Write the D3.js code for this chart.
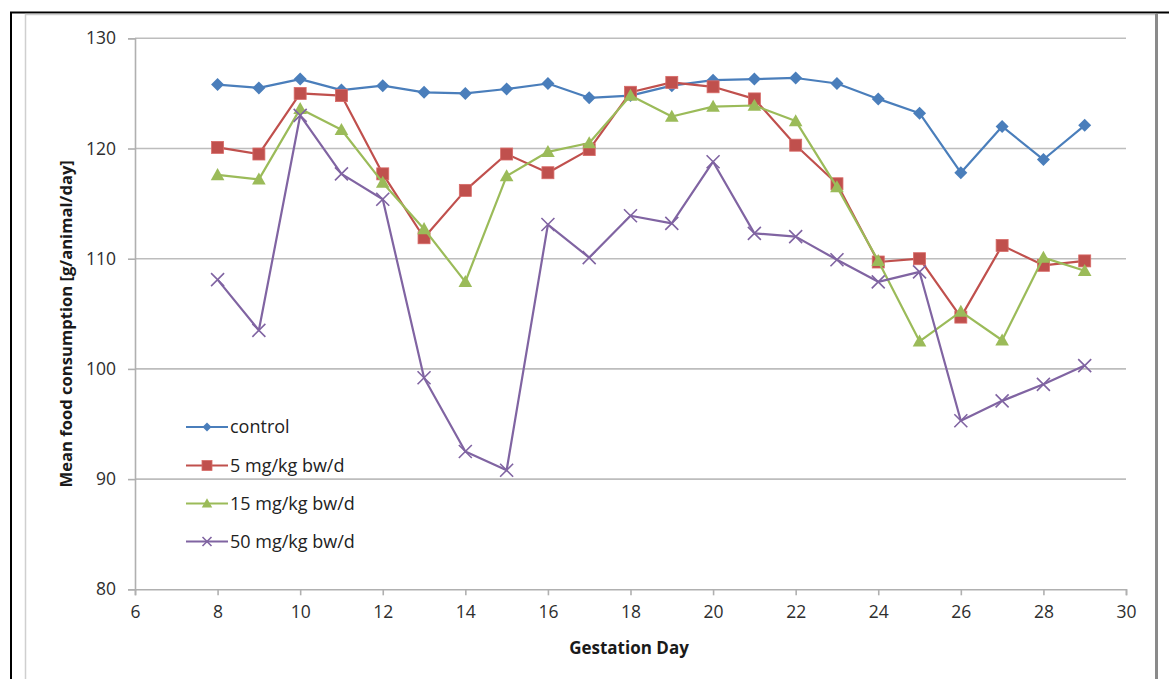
<!DOCTYPE html>
<html>
<head>
<meta charset="utf-8">
<script src="https://cdn.jsdelivr.net/npm/d3@7"></script>
<style>
  html, body { margin: 0; padding: 0; background: #ffffff; }
  svg { display: block; font-family: "Open Sans", "Liberation Sans", sans-serif; }
</style>
</head>
<body>
<svg id="chart" width="1169" height="679"></svg>
<script>
// Gestation days with food consumption readings
const days = [8, 9, 10, 11, 12, 13, 14, 15, 16, 17, 18, 19, 20, 21, 22, 23, 24, 25, 26, 27, 28, 29];

// Mean food consumption per group [g/animal/day]
const control = [125.8, 125.5, 126.3, 125.3, 125.7, 125.1, 125.0, 125.4, 125.9, 124.6, 124.8, 125.7, 126.2, 126.3, 126.4, 125.9, 124.5, 123.2, 117.8, 122.0, 119.0, 122.1];
const dose5   = [120.1, 119.5, 125.0, 124.8, 117.7, 111.9, 116.2, 119.5, 117.8, 119.9, 125.1, 126.0, 125.6, 124.5, 120.3, 116.8, 109.7, 110.0, 104.7, 111.2, 109.4, 109.8];
const dose15  = [117.6, 117.2, 123.6, 121.7, 116.9, 112.7, 107.9, 117.5, 119.7, 120.5, 124.8, 122.9, 123.8, 123.9, 122.5, 116.5, 109.8, 102.5, 105.2, 102.6, 110.1, 108.9];
const dose50  = [108.1, 103.5, 123.0, 117.7, 115.4, 99.2, 92.5, 90.8, 113.1, 110.1, 113.9, 113.2, 118.8, 112.3, 112.0, 109.9, 107.9, 108.8, 95.3, 97.1, 98.6, 100.3];

const seriesNames = ["control", "5 mg/kg bw/d", "15 mg/kg bw/d", "50 mg/kg bw/d"];
const xTicks = [6, 8, 10, 12, 14, 16, 18, 20, 22, 24, 26, 28, 30];
const yTicks = [80, 90, 100, 110, 120, 130];

const colors = ["#4a7ebb", "#c0504d", "#9bbb59", "#8064a2"];
const markers = ["diamond", "square", "triangle", "cross"];

const series = [control, dose5, dose15, dose50].map((vals, i) => ({
  name: seriesNames[i],
  color: colors[i],
  marker: markers[i],
  points: days.map((d, j) => ({ x: d, y: vals[j] }))
}));

const svg = d3.select("#chart");

// page frame
svg.append("line").attr("x1", 10).attr("x2", 1169).attr("y1", 12.5).attr("y2", 12.5)
  .attr("stroke", "#000").attr("stroke-width", 2);
svg.append("line").attr("x1", 11).attr("x2", 11).attr("y1", 12).attr("y2", 679)
  .attr("stroke", "#000").attr("stroke-width", 2);
// chart area border
svg.append("path").attr("d", "M25.5,679 V14.5 H1156")
  .attr("fill", "none").attr("stroke", "#cfcfcf").attr("stroke-width", 1.5);
svg.append("line").attr("x1", 1156.5).attr("x2", 1156.5).attr("y1", 14).attr("y2", 679)
  .attr("stroke", "#8a8a8a").attr("stroke-width", 3);

const x = d3.scaleLinear().domain([6, 30]).range([135, 1126]);
const y = d3.scaleLinear().domain([80, 130]).range([589.3, 38.3]);

// horizontal gridlines
svg.append("g").selectAll("line")
  .data(yTicks.filter(t => t > 80))
  .join("line")
  .attr("x1", x(6)).attr("x2", x(30))
  .attr("y1", d => y(d)).attr("y2", d => y(d))
  .attr("stroke", "#bdbdbd").attr("stroke-width", 1.6);

// y axis
const yAxis = svg.append("g")
  .attr("transform", `translate(${x(6)},0)`)
  .call(d3.axisLeft(y).tickValues(yTicks).tickSize(7).tickPadding(12).tickFormat(d3.format("d")));
yAxis.select(".domain").attr("stroke", "#b0b0b0").attr("stroke-width", 1.6);
yAxis.selectAll(".tick line").attr("stroke", "#b0b0b0").attr("stroke-width", 1.6);
yAxis.selectAll(".tick text").attr("font-size", 17.5).attr("fill", "#2e2e2e")
  .attr("font-family", "'Open Sans', sans-serif");

// x axis
const xAxis = svg.append("g")
  .attr("transform", `translate(0,${y(80)})`)
  .call(d3.axisBottom(x).tickValues(xTicks).tickSize(6).tickPadding(10).tickFormat(d3.format("d")));
xAxis.select(".domain").attr("stroke", "#b0b0b0").attr("stroke-width", 1.6);
xAxis.selectAll(".tick line").attr("stroke", "#b0b0b0").attr("stroke-width", 1.6);
xAxis.selectAll(".tick text").attr("font-size", 17.5).attr("fill", "#2e2e2e")
  .attr("font-family", "'Open Sans', sans-serif");

// axis titles
svg.append("text")
  .attr("transform", `translate(72,${(y(80) + y(130)) / 2 + 10}) rotate(-90)`)
  .attr("text-anchor", "middle")
  .attr("font-size", 16.6).attr("font-weight", "bold").attr("fill", "#1a1a1a")
  .text("Mean food consumption [g/animal/day]");
svg.append("text")
  .attr("x", 629).attr("y", 654)
  .attr("text-anchor", "middle")
  .attr("font-size", 17).attr("font-weight", "bold").attr("fill", "#1a1a1a")
  .text("Gestation Day");

// marker shapes
function drawMarker(sel, type, color, s) {
  if (type === "diamond") {
    sel.append("path").attr("d", `M0,${-s}L${s},0L0,${s}L${-s},0Z`).attr("fill", color);
  } else if (type === "square") {
    sel.append("rect").attr("x", -s).attr("y", -s).attr("width", 2 * s).attr("height", 2 * s)
      .attr("fill", color).attr("stroke", "#d86b68").attr("stroke-width", 0.8);
  } else if (type === "triangle") {
    sel.append("path").attr("d", `M0,${-s * 1.05}L${s * 1.05},${s * 0.8}L${-s * 1.05},${s * 0.8}Z`).attr("fill", color);
  } else {
    sel.append("path").attr("d", `M${-s},${-s}L${s},${s}M${-s},${s}L${s},${-s}`)
      .attr("stroke", color).attr("stroke-width", 1.6).attr("fill", "none");
  }
}

const line = d3.line().x(d => x(d.x)).y(d => y(d.y));
const markerSize = { diamond: 6.5, square: 6, triangle: 6.5, cross: 6.5 };

series.forEach(s => {
  const g = svg.append("g");
  g.append("path").datum(s.points)
    .attr("d", line).attr("fill", "none")
    .attr("stroke", s.color).attr("stroke-width", 2.2).attr("stroke-linejoin", "round");
  g.selectAll("g.pt").data(s.points).join("g")
    .attr("class", "pt")
    .attr("transform", d => `translate(${x(d.x)},${y(d.y)})`)
    .each(function () { drawMarker(d3.select(this), s.marker, s.color, markerSize[s.marker]); });
});

// legend
const legendY = [427, 465.5, 503.5, 541.5];
const legendSize = { diamond: 4.5, square: 5, triangle: 5, cross: 4.5 };
series.forEach((s, i) => {
  const g = svg.append("g").attr("transform", `translate(186,${legendY[i]})`);
  g.append("line").attr("x1", 0).attr("x2", 42).attr("y1", 0).attr("y2", 0)
    .attr("stroke", s.color).attr("stroke-width", 2.2);
  const m = g.append("g").attr("transform", "translate(21,0)");
  drawMarker(m, s.marker, s.color, legendSize[s.marker]);
  g.append("text").attr("x", 44).attr("y", 0).attr("dy", "0.35em")
    .attr("font-size", 18).attr("fill", "#222")
    .text(s.name);
});
</script>
</body>
</html>
